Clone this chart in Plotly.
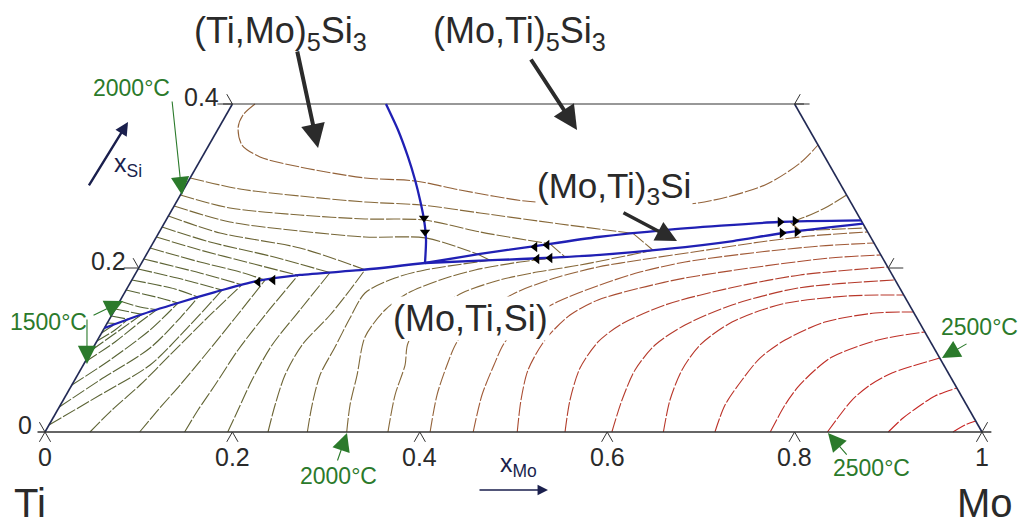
import numpy as np
import plotly.graph_objects as go
from plotly.colors import sample_colorscale

# ---------------- data: compositions as mole fractions (x_Mo, x_Si) ----------------
# liquidus isotherms of the bcc (Mo,Ti,Si) primary field, °C
BCC_T = [1350, 1400, 1450, 1500, 1550, 1600, 1650,
         1700, 1750, 1800, 1850, 1900, 1950, 2000, 2050, 2100,
         2150, 2200, 2250, 2300, 2350, 2400, 2450, 2500, 2550, 2600, 2050]
BCC_MO = [
    [0, .0096],
    [0, .0125, .0198],
    [0, .0178, .0318],
    [0, .0198, .0344, .0449],
    [0, .0255, .0499, .0633],
    [0, .0270, .0609, .0746, .0811],
    [0, .0362, .0713, .0896, .1024],
    [.048, .0581, .0728, .0865, .1025, .1204],
    [.101, .1072, .1155, .1239, .1333, .1422],
    [.149, .1499, .1528, .1560, .1635, .1745],
    [.195, .1926, .1892, .1893, .1977, .2070],
    [.238, .2291, .2214, .2213, .2329, .2389, .2426],
    [.280, .2686, .2588, .2577, .2560, .2568, .2796, .3067, .3702],
    [.322, .3091, .2983, .2836, .2885, .3027, .3289, .3601, .4033, .4482],
    [.366, .3510, .3434, .3332, .3396, .3603, .3929, .4228, .4692, .5381],
    [.411, .3958, .3882, .3848, .3930, .4169, .4504, .4896, .5301, .5887, .6473, .6969, .7561],
    [.457, .4438, .4383, .4360, .4481, .4672, .5027, .5375, .5794, .6534, .7137, .7695],
    [.504, .4885, .4777, .4775, .4890, .5097, .5472, .5891, .6524, .7317, .7841],
    [.555, .5408, .5320, .5353, .5485, .5843, .6433, .7101, .7988],
    [.605, .5963, .5919, .5980, .6178, .6558, .7158, .8146],
    [.660, .6475, .6420, .6460, .6662, .7086, .7741, .8329],
    [.715, .7093, .7122, .7180, .7337, .7654, .8133, .8537],
    [.774, .7733, .7762, .7840, .7942, .8329, .8780],
    [.835, .8381, .8418, .8518, .8679, .9098],
    [.900, .9072, .9164, .9279, .9463],
    [.969, .9776, .9866],
    [.6831, .7143, .7512],
]
BCC_SI = [
    [.1207, .1324],
    [.1110, .1244, .1376],
    [.1000, .1244, .1434],
    [.0854, .1098, .1341, .1493],
    [.0573, .0878, .1244, .1573],
    [.0305, .0634, .1024, .1390, .1645],
    [.0085, .0451, .0817, .1305, .1730],
    [0, .0268, .0573, .0939, .1366, .1796],
    [0, .0268, .0573, .0939, .1390, .1852],
    [0, .0268, .0573, .1000, .1427, .1911],
    [0, .0268, .0634, .1061, .1488, .1944],
    [0, .0329, .0695, .1061, .1427, .1732, .1979],
    [0, .0329, .0695, .1037, .1390, .1695, .1878, .1976, .2094],
    [0, .0329, .0695, .1159, .1488, .1695, .1854, .1976, .2073, .2135],
    [0, .0451, .0817, .1085, .1427, .1695, .1854, .1939, .2037, .2216],
    [0, .0451, .0817, .1098, .1427, .1695, .1878, .2012, .2098, .2207, .2317, .2390, .2439],
    [0, .0451, .0817, .1098, .1390, .1585, .1793, .1951, .2073, .2195, .2268, .2305],
    [0, .0390, .0756, .1122, .1427, .1610, .1756, .1878, .2000, .2122, .2159],
    [0, .0390, .0780, .1098, .1305, .1549, .1756, .1915, .2012],
    [0, .0390, .0756, .1061, .1305, .1549, .1756, .1854],
    [0, .0390, .0756, .1061, .1341, .1561, .1659, .1671],
    [0, .0329, .0634, .0902, .1122, .1341, .1451, .1463],
    [0, .0329, .0549, .0756, .0915, .1122, .1220],
    [0, .0207, .0390, .0573, .0720, .0902],
    [0, .0171, .0305, .0439, .0537],
    [0, .0085, .0134],
    [.2454, .2470, .2488],
]

# isotherms of the (Ti,Mo)5Si3 / (Mo,Ti)5Si3 primary fields, °C
M5S3_T = [1350, 1400, 1450, 1500, 1550, 1600, 1650, 1700, 1750, 1800,
          1850, 1900, 1950, 2000, 2050, 2100, 2050]
M5S3_MO = [
    [0, .0096], [0, .0198], [0, .0318],
    [0, .0252, .0449], [0, .0410, .0633], [0, .0515, .0811], [0, .0567, .1024],
    [0, .0685, .1204], [0, .0617, .1105, .1422], [0, .0544, .1157, .1745],
    [0, .0602, .1328, .2070], [0, .0655, .1599, .2426],
    [0, .0693, .1495, .2226, .2881, .3537],
    [0, .0608, .1398, .2116, .2753, .3423, .4243],
    [0, .0599, .1282, .2013, .2629, .3307, .4228, .5064],
    [.0241, .0180, .0207, .0352, .0618, .1105, .1866, .2422, .2954, .3715, .4539,
     .5573, .6178, .6418, .65],
    [.711, .6958, .6800, .6671],
]
M5S3_SI = [
    [.1329, .1324], [.1415, .1376], [.1500, .1434],
    [.1598, .1524, .1493], [.1732, .1634, .1573], [.1854, .1744, .1645], [.1988, .1854, .1730],
    [.2110, .1939, .1796], [.2244, .2073, .1951, .1852], [.2378, .2220, .2061, .1911],
    [.2500, .2317, .2146, .1944], [.2634, .2427, .2244, .1979],
    [.2756, .2561, .2451, .2378, .2366, .2167],
    [.2890, .2732, .2646, .2598, .2585, .2439, .2294],
    [.3098, .2963, .2878, .2805, .2768, .2671, .2537, .2423],
    [.4, .3866, .3707, .35, .3354, .3232, .3098, .3061, .2951, .2817, .2768,
     .2793, .3012, .3280, .35],
    [.289, .2732, .2622, .2561],
]

# isotherm pieces inside the narrow (Mo,Ti)3Si field, °C
M3S_T = [1950, 2000, 2050, 2050]
M3S_MO = [[.3537, .3702], [.4243, .4482], [.5064, .5381], [.6671, .6831]]
M3S_SI = [[.2167, .2094], [.2294, .2135], [.2423, .2216], [.2561, .2454]]

# univariant (phase boundary) lines
B_LEFT_MO = [0, .0301, .0633, .0961, .1295, .1764, .2395, .3025]
B_LEFT_SI = [.1268, .1427, .1573, .1707, .1829, .1915, .1976, .2061]
B_VERT_MO = [.1639, .1926, .2197, .2413, .2588, .2753, .2896, .3025]
B_VERT_SI = [.400, .3683, .3354, .3073, .2829, .2585, .2341, .2061]
B_UP_MO = [.3025, .3558, .4095, .4713, .5386, .6543, .742]
B_UP_SI = [.2061, .2171, .2268, .2378, .2463, .2561, .258]
B_LOW_MO = [.3025, .3786, .4275, .4844, .5522, .6179, .6663, .746]
B_LOW_SI = [.2061, .2098, .2122, .2159, .2232, .2329, .2427, .254]

# direction arrows on the boundary lines
ARR_MO = [.2740, .2836, .1359, .1506, .4101, .4218, .4196, .4329, .6564, .6718, .6653, .6806]
ARR_SI = [.2610, .2439, .1829, .1854, .2256, .2280, .2110, .2122, .2561, .2573, .2427, .2439]
ARR_SYM = ["triangle-down"] * 2 + ["triangle-left"] * 6 + ["triangle-right"] * 4

# axis ticks
XMO_TICKS = [0, 0.2, 0.4, 0.6, 0.8, 1.0]
XMO_LABELS = ["0", "0.2", "0.4", "0.6", "0.8", "1"]
XSI_TICKS = [0, 0.2, 0.4]
XSI_LABELS = ["0", "0.2", "0.4"]
XSI_MAX = 0.4


# ---------------- helpers ----------------
def proj(mo, si):
    """Gibbs-triangle projection: (x_Mo, x_Si) -> plot coordinates."""
    mo = np.asarray(mo, float)
    si = np.asarray(si, float)
    return mo + si / 2.0, si


CSCALE = [[0.0, "rgb(78,98,52)"], [0.40, "rgb(100,100,52)"], [0.56, "rgb(135,105,58)"],
          [0.64, "rgb(160,90,55)"], [0.72, "rgb(178,62,44)"], [1.0, "rgb(200,36,36)"]]
T_MIN, T_MAX = 1350.0, 2600.0


def tcolor(t):
    return sample_colorscale(CSCALE, [(t - T_MIN) / (T_MAX - T_MIN)])[0]


fig = go.Figure()


def add_iso(Ts, MOs, SIs):
    for t, mo, si in zip(Ts, MOs, SIs):
        x, y = proj(mo, si)
        fig.add_trace(go.Scatter(x=x, y=y, mode="lines", hoverinfo="skip",
                                 line=dict(color=tcolor(t), width=1.1, shape="spline",
                                           smoothing=0.8, dash="14px,2px")))


add_iso(BCC_T, BCC_MO, BCC_SI)
add_iso(M5S3_T, M5S3_MO, M5S3_SI)
add_iso(M3S_T, M3S_MO, M3S_SI)

# frame of the section
EDGE = "#222a55"
FRAME = "#333333"
x, y = proj([0, 0], [0, XSI_MAX])
fig.add_trace(go.Scatter(x=x, y=y, mode="lines", line=dict(color=EDGE, width=1.6), hoverinfo="skip"))
x, y = proj([1, 1 - XSI_MAX], [0, XSI_MAX])
fig.add_trace(go.Scatter(x=x, y=y, mode="lines", line=dict(color=EDGE, width=1.6), hoverinfo="skip"))
fig.add_trace(go.Scatter(x=[-0.008, 1.01], y=[0, 0], mode="lines",
                         line=dict(color=FRAME, width=1.4), hoverinfo="skip"))
fig.add_trace(go.Scatter(x=[XSI_MAX / 2 - 0.01, 1 - XSI_MAX / 2 + 0.01], y=[XSI_MAX, XSI_MAX],
                         mode="lines", line=dict(color=FRAME, width=1.2), hoverinfo="skip"))

# ternary-style tick marks
L = 0.012
tx, ty = [], []
for t in XMO_TICKS:
    tx += [t - L / 2, t, t + L / 2, None]
    ty += [-L, 0, -L, None]
    if t == 0:
        tx += [t, t - L / 2, None]
        ty += [0, L, None]
    if t == 1:
        tx += [t, t + L / 2, None]
        ty += [0, L, None]
for s in XSI_TICKS[1:]:
    xl = s / 2
    tx += [xl - 0.016, xl, xl - L / 2, None]
    ty += [s, s, s + L, None]
    xr = 1 - s / 2
    tx += [xr + 0.016, xr, xr + L / 2, None]
    ty += [s, s, s + L, None]
fig.add_trace(go.Scatter(x=tx, y=ty, mode="lines", line=dict(color=FRAME, width=1),
                         hoverinfo="skip"))

# phase boundaries
BLUE = "#2020b4"
for mo, si in [(B_LEFT_MO, B_LEFT_SI), (B_VERT_MO, B_VERT_SI),
               (B_UP_MO, B_UP_SI), (B_LOW_MO, B_LOW_SI)]:
    x, y = proj(mo, si)
    fig.add_trace(go.Scatter(x=x, y=y, mode="lines", hoverinfo="skip",
                             line=dict(color=BLUE, width=2.3, shape="spline", smoothing=0.6)))
x, y = proj(ARR_MO, ARR_SI)
fig.add_trace(go.Scatter(x=x, y=y, mode="markers", hoverinfo="skip",
                         marker=dict(symbol=ARR_SYM, size=9, color="black")))

# ---------------- text ----------------
FONT = "Liberation Sans, Arial, sans-serif"
GREEN = "#2b7a2b"
ann = []


def txt(x, y, s, size, color="#2a2a2a", **kw):
    ann.append(dict(x=x, y=y, xref="x", yref="y", text=s, showarrow=False,
                    font=dict(family=FONT, size=size, color=color), **kw))


def arrow(x, y, ax, ay, color, width, size, head=2):
    ann.append(dict(x=x, y=y, ax=ax, ay=ay, xref="x", yref="y", axref="x", ayref="y",
                    text="", showarrow=True, arrowhead=head, arrowsize=size,
                    arrowwidth=width, arrowcolor=color, standoff=0, startstandoff=0))


for t, lab in zip(XMO_TICKS, XMO_LABELS):
    txt(t, 0, lab, 25, yanchor="top", yshift=-9)
for s, lab in zip(XSI_TICKS, XSI_LABELS):
    x, y = proj(0, s)
    txt(float(x), float(y), lab, 25, xanchor="right", xshift=-11, yshift=7)

txt(-0.016, -0.0866, "Ti", 40)
txt(1.0032, -0.0866, "Mo", 40)
txt(0.505, -0.040, "x<sub>Mo</sub>", 25, color="#1a1f4d")
arrow(0.5368, -0.0707, 0.4621, -0.0707, "#1a1f4d", 1.6, 1.3)
txt(0.089, 0.326, "x<sub>Si</sub>", 25, color="#1a1f4d")
arrow(0.0886, 0.378, 0.0459, 0.2988, "#1a1f4d", 2.4, 1.1)

# phase fields
txt(0.2508, 0.4865, "(Ti,Mo)<sub>5</sub>Si<sub>3</sub>", 36)
txt(0.5069, 0.4865, "(Mo,Ti)<sub>5</sub>Si<sub>3</sub>", 36)
txt(0.6073, 0.2975, "(Mo,Ti)<sub>3</sub>Si", 35, bgcolor="white")
txt(0.4536, 0.1390, "(Mo,Ti,Si)", 36, bgcolor="white")
arrow(0.2914, 0.3463, 0.2689, 0.4659, "#2b2b2b", 4, 1.2)
arrow(0.5678, 0.3683, 0.5176, 0.4561, "#2b2b2b", 4, 1.2)
arrow(0.6745, 0.2329, 0.6158, 0.2683, "#2b2b2b", 3.5, 1.2)

# temperature marks
GS = 23
GA = 3.3
txt(0.0918, 0.4195, "2000°C", GS, GREEN)
arrow(0.1462, 0.2890, 0.1355, 0.4049, GREEN, 1.1, GA)
txt(0.0032, 0.1341, "1500°C", GS, GREEN)
arrow(0.0832, 0.1598, 0.0502, 0.1415, GREEN, 1.1, GA)
arrow(0.0448, 0.0830, 0.0448, 0.1390, GREEN, 1.1, GA)
txt(0.3127, -0.0537, "2000°C", GS, GREEN)
arrow(0.3223, -0.0012, 0.3116, -0.0366, GREEN, 1.1, GA)
txt(0.8826, -0.0439, "2500°C", GS, GREEN)
arrow(0.8356, -0.0012, 0.8570, -0.0293, GREEN, 1.1, GA)
txt(0.9968, 0.1280, "2500°C", GS, GREEN)
arrow(0.9573, 0.0902, 0.9851, 0.1085, GREEN, 1.1, GA)

fig.update_layout(
    width=1019, height=529, margin=dict(l=0, r=0, t=0, b=0, pad=0),
    paper_bgcolor="white", plot_bgcolor="white", showlegend=False,
    xaxis=dict(visible=False, range=[-0.04803, 1.03949], fixedrange=True),
    yaxis=dict(visible=False, range=[-0.11829, 0.52683], fixedrange=True),
    annotations=ann,
)
fig.write_html("out.html", config={"displayModeBar": False},
               post_script="document.body.style.margin='0px';")
